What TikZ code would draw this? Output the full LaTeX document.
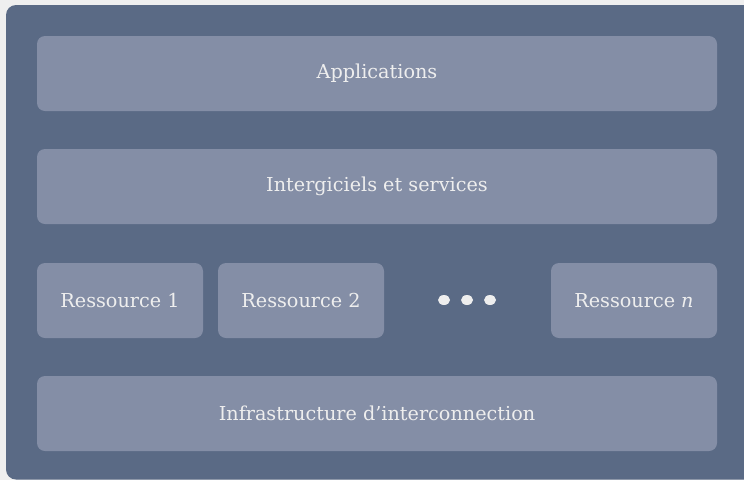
\documentclass[tikz,border=0pt]{standalone}
\usepackage{fontspec}
\setmainfont{DejaVu Serif}
\definecolor{pagebg}{HTML}{EFEFEF}
\definecolor{outerc}{HTML}{5A6A85}
\definecolor{boxc}{HTML}{848EA6}
\definecolor{txtc}{HTML}{EEEEEE}
\begin{document}
\begin{tikzpicture}[x=1pt,y=-1pt,
  layerbox/.style={fill=boxc, draw=none, rounded corners=8pt, text=txtc,
    font=\fontsize{19.2}{23}\selectfont, inner sep=0pt},
  dotc/.style={fill=txtc, draw=none}]
\fill[pagebg] (0,0) rectangle (744,480);
\useasboundingbox (0,0) rectangle (744,480);
\fill[outerc, rounded corners=10pt] (6,5) rectangle (770,479.5);
\node[layerbox, minimum width=680pt, minimum height=75pt] (app) at (377,73.5) {Applications};
\node[layerbox, minimum width=680pt, minimum height=75pt] (mid) at (377,186.5) {Intergiciels et services};
\node[layerbox, minimum width=166pt, minimum height=75pt] (r1) at (120,300.5) {Ressource 1};
\node[layerbox, minimum width=166pt, minimum height=75pt] (r2) at (301,300.5) {Ressource 2};
\node[layerbox, minimum width=166pt, minimum height=75pt] (rn) at (634,300.5) {Ressource \textit{n}};
\node[layerbox, minimum width=680pt, minimum height=75pt] (infra) at (377,413.5) {Infrastructure d’interconnection};
\fill[dotc] (444,300) ellipse (6pt and 5pt);
\fill[dotc] (467,300) ellipse (6pt and 5pt);
\fill[dotc] (490,300) ellipse (6pt and 5pt);
\end{tikzpicture}
\end{document}
